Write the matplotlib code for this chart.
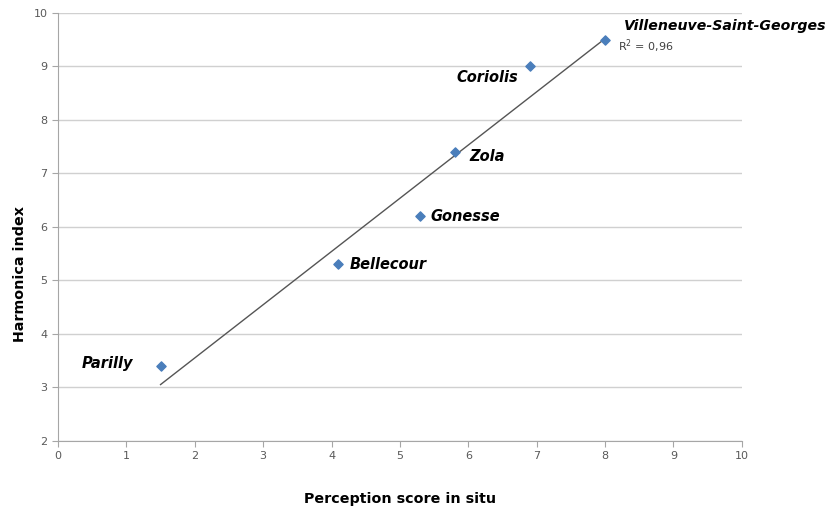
import matplotlib
matplotlib.use("Agg")
import matplotlib.pyplot as plt
import numpy as np

sites = ["Parilly", "Bellecour", "Gonesse", "Zola", "Coriolis", "Villeneuve-Saint-Georges"]
perception = [1.5, 4.1, 5.3, 5.8, 6.9, 8.0]
harmonica = [3.4, 5.3, 6.2, 7.4, 9.0, 9.5]
label_pos = [(1.1, 3.45, "right"), (4.27, 5.29, "left"), (5.44, 6.2, "left"),
             (6.02, 7.31, "left"), (6.73, 8.8, "right"), (11.24, 9.76, "right")]
r2_text = "R$^2$ = 0,96"

fig = plt.figure(figsize=(8.28, 5.11), dpi=100)
ax = fig.add_axes([0.070, 0.137, 0.826, 0.838])

ax.set_xlim(0, 10)
ax.set_ylim(2, 10)
ax.set_xticks(range(0, 11))
ax.set_yticks(range(2, 11))
ax.grid(axis="y", color="#d0d0d0", linewidth=1)
ax.set_axisbelow(True)
for s in ["top", "right"]:
    ax.spines[s].set_visible(False)
for s in ["left", "bottom"]:
    ax.spines[s].set_color("#a6a6a6")
ax.tick_params(colors="#a6a6a6", labelcolor="#595959", labelsize=8, length=4)

ax.scatter(perception, harmonica, marker="D", s=22, color="#4a7ebb", zorder=3)

x = np.array(perception)
y = np.array(harmonica)
k, b = np.polyfit(x, y, 1)
xs = np.array([x.min(), x.max()])
ax.plot(xs, k * xs + b, color="#555555", linewidth=1, zorder=2)

for i, (name, (tx, ty, ha)) in enumerate(zip(sites, label_pos)):
    ax.text(tx, ty, name, ha=ha, va="center",
            fontsize=10.2 if i == len(sites) - 1 else 10.5, fontweight="bold",
            fontstyle="italic", color="black", clip_on=False)

ax.text(8.19, 9.38, r2_text, fontsize=8, color="#404040", va="center", ha="left")

ax.set_xlabel("Perception score in situ", fontsize=10.3, fontweight="bold", labelpad=22)
ax.set_ylabel("Harmonica index", fontsize=10.3, fontweight="bold", labelpad=3)
ax.yaxis.set_label_coords(-0.045, 0.39)

fig.savefig("out.png", dpi=100)
